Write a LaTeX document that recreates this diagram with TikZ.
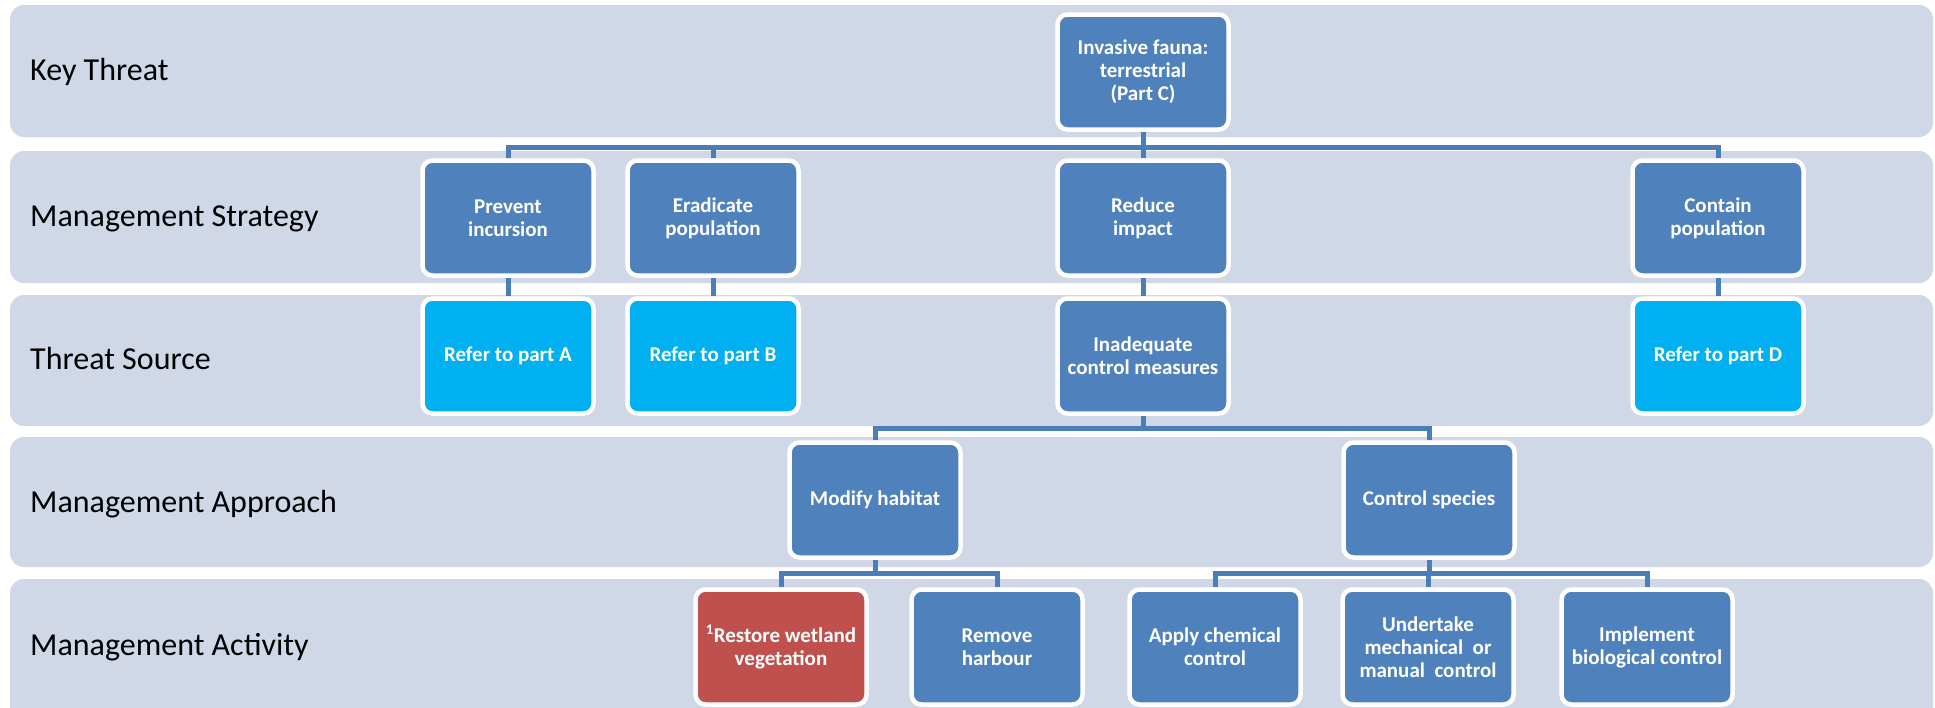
\documentclass[tikz,border=0pt]{standalone}
\usepackage{fontspec}
\setmainfont{Carlito}
\begin{document}
\definecolor{bandfill}{RGB}{208,216,232}
\definecolor{boxblue}{RGB}{79,129,189}
\definecolor{boxcyan}{RGB}{0,176,240}
\definecolor{boxred}{RGB}{192,80,77}
\definecolor{linkblue}{RGB}{74,126,187}
\begin{tikzpicture}[x=1pt,y=-1pt,
  band/.style={fill=bandfill,draw=none,rounded corners=14pt},
  bandlabel/.style={anchor=base west,inner sep=0pt,font=\fontsize{32}{38}\selectfont},
  box/.style={rectangle,rounded corners=10pt,draw=white,line width=4.5pt,fill=boxblue,
    minimum width=171pt,minimum height=115pt,align=center,text=white,inner sep=2pt,
    font=\fontsize{21}{23}\selectfont\bfseries},
  refbox/.style={box,fill=boxcyan},
  redbox/.style={box,fill=boxred},
  conn/.style={draw=linkblue,line width=5pt}]
\useasboundingbox (0,0) rectangle (1935,707);

% horizontal bands, one per level
\path[band] (10,5) rectangle (1933,137);
\path[band] (10,151) rectangle (1933,283);
\path[band] (10,295) rectangle (1933,426);
\path[band] (10,437) rectangle (1933,567);
\path[band] (10,579) rectangle (1933,722);

\node[bandlabel] (lkey) at (30,80) {Key Threat};
\node[bandlabel] (lstrat) at (30,226) {Management Strategy};
\node[bandlabel] (lsrc) at (30,369) {Threat Source};
\node[bandlabel] (lappr) at (30,512) {Management Approach};
\node[bandlabel] (lact) at (30,655) {Management Activity};

% bus levels of the tree connectors
\coordinate (bus1) at (0,147);
\coordinate (bus3) at (0,428);
\coordinate (bus4) at (0,573);

% node placement (connectors are drawn beneath, see below)
\path
  (1143,72) coordinate (pinv)
  (508,218) coordinate (pprev) (713,218) coordinate (perad)
  (1143,218) coordinate (pred) (1718,218) coordinate (pcont)
  (508,356) coordinate (prefa) (713,356) coordinate (prefb)
  (1143,356) coordinate (pinad) (1718,356) coordinate (prefd)
  (875,500) coordinate (pmod) (1429,500) coordinate (pctl)
  (781,647) coordinate (prest) (997,647) coordinate (prem)
  (1215,647) coordinate (papp) (1428,647) coordinate (pund) (1647,647) coordinate (pimp);

% invisible copies to name anchors before drawing connectors
\begin{scope}[every node/.style={box,draw=none,fill=none,text opacity=0}]
  \node (inv) at (pinv) {};
  \node (prev) at (pprev) {}; \node (erad) at (perad) {};
  \node (red) at (pred) {}; \node (cont) at (pcont) {};
  \node (refa) at (prefa) {}; \node (refb) at (prefb) {};
  \node (inad) at (pinad) {}; \node (refd) at (prefd) {};
  \node (mod) at (pmod) {}; \node (ctl) at (pctl) {};
  \node (rest) at (prest) {}; \node (rem) at (prem) {};
  \node (app) at (papp) {}; \node (und) at (pund) {}; \node (imp) at (pimp) {};
\end{scope}

% connectors
\foreach \c in {prev,erad,red,cont}
  \draw[conn] (inv.south) -- (inv.south |- bus1) -| (\c.north);
\draw[conn] (prev.south) -- (refa.north);
\draw[conn] (erad.south) -- (refb.north);
\draw[conn] (red.south) -- (inad.north);
\draw[conn] (cont.south) -- (refd.north);
\foreach \c in {mod,ctl}
  \draw[conn] (inad.south) -- (inad.south |- bus3) -| (\c.north);
\foreach \c in {rest,rem}
  \draw[conn] (mod.south) -- (mod.south |- bus4) -| (\c.north);
\foreach \c in {app,und,imp}
  \draw[conn] (ctl.south) -- (ctl.south |- bus4) -| (\c.north);

% boxes
\node[box] (inv2) at (pinv) {Invasive fauna:\\terrestrial\\(Part C)};
\node[box] (prev2) at (pprev) {Prevent\\incursion};
\node[box] (erad2) at (perad) {Eradicate\\population};
\node[box] (red2) at (pred) {Reduce\\impact};
\node[box] (cont2) at (pcont) {Contain\\population};
\node[refbox] (refa2) at (prefa) {Refer to part A};
\node[refbox] (refb2) at (prefb) {Refer to part B};
\node[box] (inad2) at (pinad) {Inadequate\\control measures};
\node[refbox] (refd2) at (prefd) {Refer to part D};
\node[box] (mod2) at (pmod) {Modify habitat};
\node[box] (ctl2) at (pctl) {Control species};
\node[redbox] (rest2) at (prest) {\textsuperscript{1}Restore wetland\\vegetation};
\node[box] (rem2) at (prem) {Remove\\harbour};
\node[box] (app2) at (papp) {Apply chemical\\control};
\node[box] (und2) at (pund) {Undertake\\mechanical\ \ or\\manual\ \ control};
\node[box] (imp2) at (pimp) {Implement\\biological control};
\end{tikzpicture}
\end{document}
